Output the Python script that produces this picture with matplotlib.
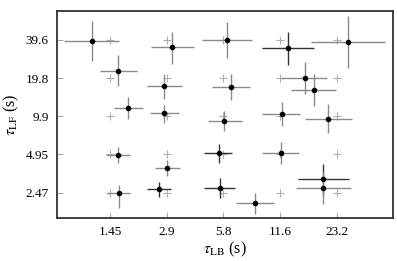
import numpy as np
import matplotlib
matplotlib.use("Agg")
import matplotlib.pyplot as plt

plt.rcParams['font.family'] = ['Liberation Serif', 'DejaVu Serif']
plt.rcParams['mathtext.fontset'] = 'stix'

# true (set) values, drawn as light "+" marks
true_lb = [1.45, 2.9, 5.8, 11.6, 23.2]
true_lf = [2.47, 4.95, 9.9, 19.8, 39.6]
tick_labels_x = ["1.45", "2.9", "5.8", "11.6", "23.2"]
tick_labels_y = ["2.47", "4.95", "9.9", "19.8", "39.6"]

# estimates (dots) with their lower / upper bounds
est_lb = [1.16, 1.60, 1.81, 1.60, 1.62,
          3.08, 2.80, 2.80, 2.90, 2.63,
          6.09, 6.39, 5.87, 5.46, 5.53,
          12.8, 15.7, 11.9, 11.7, 8.56,
          26.5, 17.5, 20.8, 19.6, 19.6]
lb_lo = [0.83, 1.28, 1.52, 1.38, 1.40,
         2.39, 2.27, 2.36, 2.51, 2.27,
         4.49, 5.07, 4.83, 4.55, 4.55,
         9.32, 11.7, 9.32, 9.32, 6.80,
         16.9, 13.3, 15.7, 14.4, 14.1]
lb_hi = [1.62, 2.01, 2.17, 1.85, 1.85,
         4.03, 3.48, 3.36, 3.40, 3.04,
         8.26, 8.06, 7.31, 6.47, 6.71,
         17.5, 20.5, 14.8, 14.6, 10.7,
         41.6, 22.9, 27.8, 26.9, 27.5]
est_lf = [38.9, 22.6, 11.6, 4.92, 2.47,
          34.9, 17.2, 10.5, 3.89, 2.65,
          39.7, 16.9, 9.12, 5.10, 2.70,
          34.3, 19.9, 10.4, 5.10, 2.06,
          38.3, 16.0, 9.46, 3.18, 2.70]
lf_lo = [27.1, 17.2, 9.46, 4.26, 1.88,
         25.7, 13.6, 8.80, 3.36, 2.30,
         28.6, 13.4, 7.61, 4.26, 2.26,
         25.2, 14.9, 8.33, 4.18, 1.69,
         23.9, 12.0, 7.34, 2.38, 2.02]
lf_hi = [56.0, 30.2, 14.1, 5.69, 2.86,
         45.9, 21.4, 12.2, 4.50, 3.02,
         55.0, 21.4, 10.9, 6.01, 3.24,
         45.9, 26.6, 12.9, 6.23, 2.47,
         61.3, 21.4, 12.4, 4.18, 3.62]
bar_dark = [0, 0, 0, 0, 0,
            0, 0, 0, 0, 1,
            0, 0, 0, 1, 1,
            1, 0, 0, 0, 0,
            0, 0, 0, 1, 0]

fig = plt.figure(figsize=(3.97, 2.61), dpi=100)
ax = fig.add_axes([0.1436, 0.1648, 0.846, 0.793])

X, Y = np.meshgrid(true_lb, true_lf)
ax.plot(X.ravel(), Y.ravel(), '+', color='#b0b0b0', markersize=5.5, mew=0.8, zorder=1)

for i in range(len(est_lb)):
    x, y = est_lb[i], est_lf[i]
    col = '#333333' if bar_dark[i] else '#8a8a8a'
    ax.errorbar([x], [y],
                xerr=[[x - lb_lo[i]], [lb_hi[i] - x]],
                yerr=[[y - lf_lo[i]], [lf_hi[i] - y]],
                fmt='o', color='black', ecolor=col, elinewidth=1.0,
                markersize=3.0, capsize=0, zorder=3)

ax.set_xscale('log', base=2)
ax.set_yscale('log', base=2)
ax.set_xlim(0.76, 45.9)
ax.set_ylim(1.56, 67)
ax.set_xticks(true_lb)
ax.set_xticklabels(tick_labels_x)
ax.set_yticks(true_lf)
ax.set_yticklabels(tick_labels_y)
ax.minorticks_off()
ax.tick_params(direction='in', length=4, width=0.8, color='#aaaaaa',
               labelsize=9.5, pad=6, top=False, right=False)

for s in ax.spines.values():
    s.set_color('#333333')
    s.set_linewidth(1.3)

ax.set_xlabel(r'$\tau_{\mathrm{LB}}$ (s)', fontsize=11.5, labelpad=1)
ax.set_ylabel(r'$\tau_{\mathrm{LF}}$ (s)', fontsize=11.5, labelpad=3)

fig.savefig('out.png', dpi=100)
